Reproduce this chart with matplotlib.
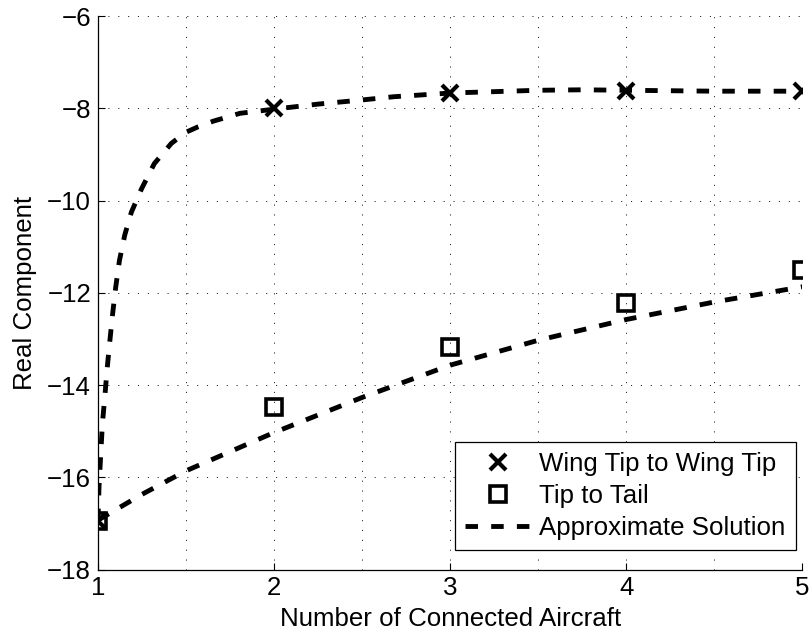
import matplotlib
matplotlib.use('Agg')
import matplotlib.pyplot as plt
from matplotlib.ticker import MultipleLocator

plt.rcParams['font.family'] = ['Liberation Sans', 'DejaVu Sans']
plt.rcParams['lines.scale_dashes'] = False

# Measured points
n_aircraft = [1, 2, 3, 4, 5]
wing_tip = [-16.95, -8.00, -7.67, -7.62, -7.62]
tip_tail = [-16.95, -14.47, -13.17, -12.23, -11.51]

# Approximate solution curves
approx_wing_x = [1.0, 1.006, 1.015, 1.025, 1.04, 1.052, 1.066, 1.082, 1.1, 1.122,
                 1.152, 1.19, 1.247, 1.32, 1.417, 1.5, 1.57, 1.655, 1.806, 2.0,
                 2.25, 2.5, 2.68, 3.0, 3.25, 3.5, 3.75, 4.0, 4.25, 4.5, 5.0]
approx_wing_y = [-16.95, -16.2, -15.55, -14.85, -14.2, -13.65, -13.1, -12.5, -11.9, -11.3,
                 -10.75, -10.25, -9.75, -9.2, -8.76, -8.52, -8.40, -8.28, -8.11, -8.02,
                 -7.91, -7.82, -7.75, -7.67, -7.64, -7.61, -7.60, -7.61, -7.62, -7.63, -7.63]
approx_tail_x = [1.0, 1.25, 1.5, 2.0, 2.5, 3.0, 3.5, 4.0, 4.5, 5.0]
approx_tail_y = [-16.93, -16.37, -15.86, -15.03, -14.27, -13.57, -13.03, -12.58, -12.20, -11.87]

FS = 18.6

fig = plt.figure(figsize=(8.09, 6.35), dpi=100)
ax = fig.add_axes([0.1211, 0.1031, 0.8706, 0.8717])

dash = (0, (9, 9.5))
ax.plot(approx_wing_x, approx_wing_y, color='black', lw=3.5, linestyle=dash,
        label='Approximate Solution', zorder=3)
ax.plot(approx_tail_x, approx_tail_y, color='black', lw=3.5, linestyle=dash, zorder=3)
ax.plot(n_aircraft, wing_tip, linestyle='none', marker='x', ms=11, mew=3,
        color='black', label='Wing Tip to Wing Tip', zorder=4)
ax.plot(n_aircraft, tip_tail, linestyle='none', marker='s', ms=12, mew=2.6,
        mfc='none', mec='black', label='Tip to Tail', zorder=4)

ax.set_xlim(1, 5)
ax.set_ylim(-18, -6)
ax.xaxis.set_major_locator(MultipleLocator(1))
ax.xaxis.set_minor_locator(MultipleLocator(0.5))
ax.yaxis.set_major_locator(MultipleLocator(2))

ax.tick_params(which='major', direction='in', length=5, width=0.8, pad=5, labelsize=FS)
ax.tick_params(which='minor', direction='in', length=0)
ax.grid(which='both', axis='x', color='black', lw=0.6, linestyle=(0, (0.8, 6.3)))
ax.grid(which='major', axis='y', color='black', lw=0.6, linestyle=(0, (0.8, 6.3)))

for side in ['top', 'right']:
    ax.spines[side].set_visible(False)
for side in ['left', 'bottom']:
    ax.spines[side].set_linewidth(0.9)

ax.set_xlabel('Number of Connected Aircraft', fontsize=FS, labelpad=5)
ax.set_ylabel('Real Component', fontsize=FS)
ax.yaxis.set_label_coords(-0.087, 0.5)

handles, labels = ax.get_legend_handles_labels()
order = [1, 2, 0]
leg = ax.legend([handles[i] for i in order], [labels[i] for i in order],
                loc='lower right', bbox_to_anchor=(0.9906, 0.0352), borderaxespad=0,
                fontsize=FS, frameon=True, fancybox=False, framealpha=1,
                edgecolor='black', handlelength=2.55, handletextpad=0.3,
                labelspacing=0.3, borderpad=0.4)
leg.get_frame().set_linewidth(0.9)
leg.set_zorder(5)

fig.savefig('out.png', dpi=100)
